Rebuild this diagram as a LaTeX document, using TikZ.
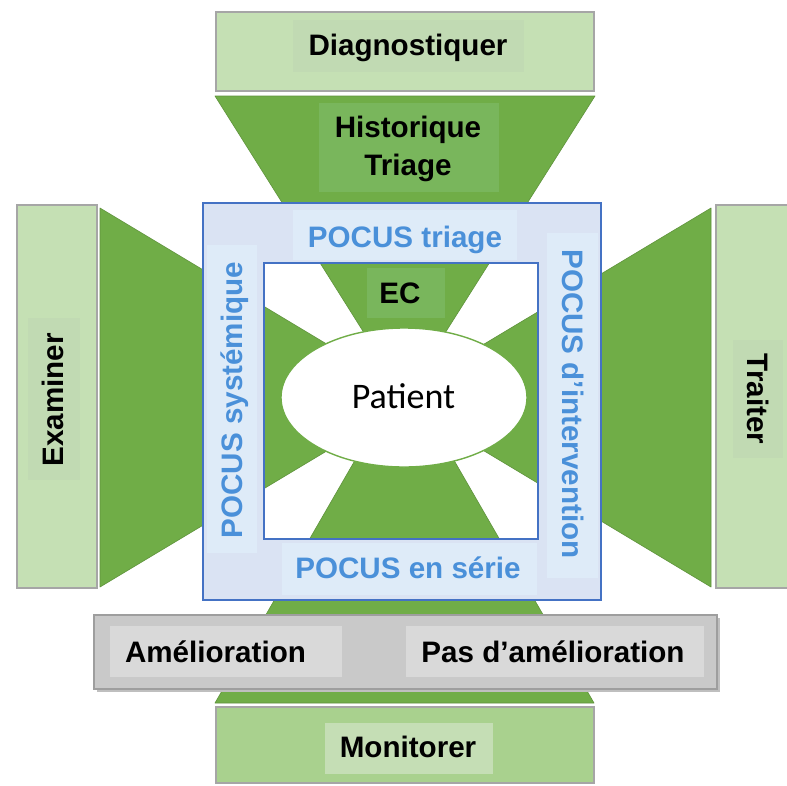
\documentclass[tikz,border=0pt]{standalone}
\usepackage{fontspec}
\setmainfont{Liberation Sans}
\newfontfamily\calfont{Carlito}
\usetikzlibrary{shapes.geometric}

\definecolor{gDark}{HTML}{70AD47}
\definecolor{gLabel}{HTML}{79B65C}
\definecolor{gLight}{HTML}{C5E0B4}
\definecolor{gLightLabel}{HTML}{C1DAB3}
\definecolor{gMid}{HTML}{A9D18E}
\definecolor{gMidLabel}{HTML}{C5DEB5}
\definecolor{boxLine}{HTML}{A6A6A6}
\definecolor{blueLine}{HTML}{4472C4}
\definecolor{blueFill}{HTML}{DAE3F3}
\definecolor{blueLabel}{HTML}{DEEBF8}
\definecolor{pocusText}{HTML}{4A90D9}
\definecolor{barFill}{HTML}{C9C9C9}
\definecolor{barLine}{HTML}{9E9E9E}
\definecolor{barLabel}{HTML}{D9D9D9}

\tikzset{
  funnel/.style={fill=gDark, draw=gDark!85!black, line width=0.6pt, line join=round},
  stagebox/.style={fill=gLight, draw=boxLine, line width=1.3pt},
  stagelabel/.style={fill=gLightLabel},
  lbl/.style={font=\bfseries\fontsize{29.6}{36}\selectfont, inner sep=0pt, anchor=base, text=black},
  pocus/.style={lbl, text=pocusText},
}

\begin{document}
\begin{tikzpicture}[x=1pt, y=-1pt]
\useasboundingbox (0,0) rectangle (787,785);
\clip (0,0) rectangle (787,785);
\fill[white] (0,0) rectangle (787,785);

% four funnels converging on the patient
\fill[funnel] (215,96) -- (595,96) -- (409,390) -- (400,390) -- cycle;
\fill[funnel] (100,208) -- (100,587) -- (400,407) -- (400,388) -- cycle;
\fill[funnel] (711,208) -- (711,587) -- (410,406.5) -- (410,388.5) -- cycle;
\fill[funnel] (215,703) -- (594,703) -- (425,410) -- (384,410) -- cycle;

% POCUS frame (ring around the inner square)
\fill[blueFill, even odd rule] (203,203) rectangle (601,600) (264,263) rectangle (538,539);
\fill[blueLabel] (293,210) rectangle (517,260);
\fill[blueLabel] (207,245) rectangle (257,553);
\fill[blueLabel] (547,233) rectangle (598,578);
\fill[blueLabel] (282,543) rectangle (537,595);
\draw[blueLine, line width=2pt] (203,203) rectangle (601,600);
\draw[blueLine, line width=2pt] (264,263) rectangle (538,539);

% outer stages
\draw[stagebox] (216,12) rectangle (594,91);
\fill[stagelabel] (293,20) rectangle (524,72);
\draw[stagebox] (17,205) rectangle (97,588);
\fill[stagelabel] (28,318) rectangle (80,480);
\draw[stagebox] (716,205) rectangle (800,588);
\fill[stagelabel] (733,340) rectangle (783,458);
\draw[stagebox, fill=gMid] (216,707) rectangle (594,783);
\fill[gMidLabel] (325,723) rectangle (493,774);

% label panels on the funnels
\fill[gLabel] (319,103) rectangle (499,192);
\fill[gLabel] (367,268) rectangle (445,318);

% outcome bar
\fill[black!25] (97,618) rectangle (720,692);
\draw[fill=barFill, draw=barLine, line width=1.5pt] (94,615) rectangle (717,689);
\fill[barLabel] (110,626) rectangle (342,677);
\fill[barLabel] (406,626) rectangle (704,677);

% patient
\node[ellipse, draw=gDark, line width=1.4pt, fill=white, minimum width=246pt, minimum height=139pt, inner sep=0pt] (patient) at (404,397.5) {};
\node[inner sep=0pt, anchor=base, font=\calfont\fontsize{36}{40}\selectfont] (patientT) at (403.5,408) {Patient};

% texts
\node[lbl] (diag) at (408,55) {Diagnostiquer};
\node[lbl] (hist) at (408,137) {Historique};
\node[lbl] (triage) at (408,175) {Triage};
\node[lbl] (ec) at (400,303) {EC};
\node[lbl, rotate=90] (exam) at (63,400) {Examiner};
\node[lbl, rotate=-90] (trait) at (747,399) {Traiter};
\node[lbl] (amel) at (215.5,662) {Amélioration};
\node[lbl] (pasamel) at (553,662) {Pas d’amélioration};
\node[lbl] (monit) at (408,757) {Monitorer};

\node[pocus] (ptri) at (405,247) {POCUS triage};
\node[pocus] (pser) at (408,578) {POCUS en série};
\node[pocus, rotate=90] (psys) at (242,400) {POCUS systémique};
\node[pocus, rotate=-90] (pint) at (562,404) {POCUS d’intervention};
\end{tikzpicture}
\end{document}
